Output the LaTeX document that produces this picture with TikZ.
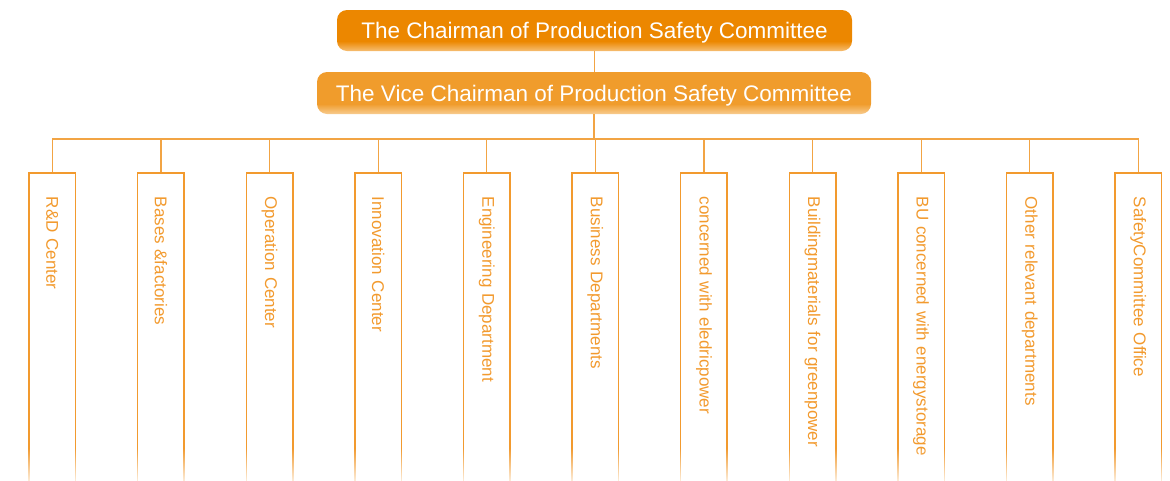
\documentclass[tikz,border=0pt]{standalone}
\usepackage{fontspec}
\setmainfont{Liberation Sans}
\usetikzlibrary{fadings}
\definecolor{chairorange}{HTML}{EC8700}
\definecolor{chairlight}{HTML}{F6BE73}
\definecolor{viceorange}{HTML}{F09C2C}
\definecolor{vicelight}{HTML}{F8CC90}
\definecolor{lineorange}{HTML}{F2A444}
\definecolor{deptorange}{HTML}{F29A2E}
\pgfdeclareverticalshading{chairshade}{100bp}{color(0bp)=(chairlight); color(25bp)=(chairlight); color(37bp)=(chairorange); color(100bp)=(chairorange)}
\pgfdeclareverticalshading{viceshade}{100bp}{color(0bp)=(vicelight); color(25bp)=(vicelight); color(37bp)=(viceorange); color(100bp)=(viceorange)}

\begin{document}
\begin{tikzpicture}[x=1pt,y=1pt,
    headbox/.style={rounded corners=10pt,text=white,inner sep=0pt,text height=16pt,text depth=0pt,minimum height=41pt,font=\fontsize{22.5}{26}\selectfont},
    deptbox/.style={draw=deptorange,line width=1.5pt,rotate=-90,anchor=west,minimum width=330pt,minimum height=46.5pt,text width=282pt,inner xsep=24pt,align=left,text=deptorange,font=\fontsize{17}{20}\selectfont},
    link/.style={draw=lineorange,line width=1.2pt}]
    \useasboundingbox (0,0) rectangle (1170,-480);
    % Committee heads
    \node[headbox,shading=chairshade,minimum width=515pt] (chair) at (594.5,-30.5) {The Chairman of Production Safety Committee};
    \node[headbox,shading=viceshade,minimum width=554pt,minimum height=42pt] (vice) at (594,-93) {The Vice Chairman of Production Safety Committee};
    \draw[link] (chair.south) -- (chair.south |- vice.north);
    % Departments
    \coordinate (bus) at (594,-139);
    \foreach \t [count=\i] in {R\&D Center,Bases \&factories,Operation Center,Innovation Center,Engineering Department,Business Departments,concerned with eledricpower,Buildingmaterials for greenpower,BU concerned with energystorage,Other relevant departments,SafetyCommittee Office}
        \node[deptbox] (d\i) at ({52.3+108.6*(\i-1)},-172) {\t};
    \foreach \i in {1,...,11}
        \draw[link] (vice.south) |- (bus -| d\i.west) -- (d\i.west);
    % Fade out at the bottom
    \fill[white,fill opacity=0.9,path fading=north] (0,-448) rectangle (1170,-484);
\end{tikzpicture}
\end{document}
